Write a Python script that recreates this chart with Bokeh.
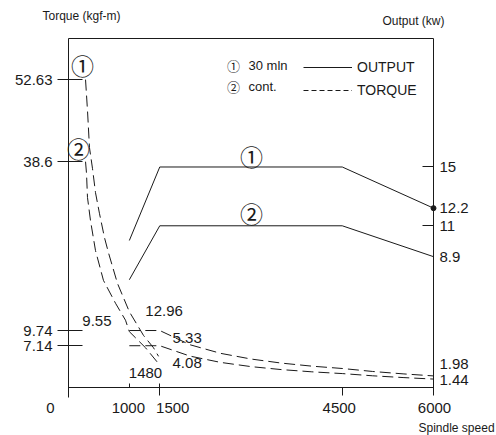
from bokeh.plotting import figure
from bokeh.models import (Range1d, LinearAxis, FixedTicker, ColumnDataSource,
                          LabelSet, Label, Legend, LegendItem)
from bokeh.core.properties import value
from bokeh.embed import file_html
from bokeh.resources import INLINE

# ---------------- data ----------------
speed_label_ticks = [0, 1000, 1500, 4500, 6000]
speed_tick_labels = ["0", "1000", "1500", "4500", "6000"]
speed_ticks_in = [1000, 1500]
speed_ticks_out = [1500, 4500]
torque_ticks = [52.63, 38.6, 9.74, 7.14]
torque_tick_labels = ["52.63", "38.6", "9.74", "7.14"]
output_ticks = [15, 11]

# output (kW) lines
out1_speed = [1000, 1500, 4500, 6000]
out1_kw = [10.0, 15.0, 15.0, 12.2]
out2_speed = [1000, 1500, 4500, 6000]
out2_kw = [7.33, 11.0, 11.0, 8.9]

# torque (kgf-m), low-speed range
tq1_low_speed = [280, 312, 345, 395, 444, 510, 592, 658, 805, 1000, 1233, 1397, 1480]
tq1_low = [52.63, 47.4, 41.0, 37.4, 33.3, 29.7, 25.6, 23.0, 17.8, 12.96, 8.9, 6.8, 5.33]
tq2_low_speed = [280, 296, 312, 362, 444, 575, 773, 937, 1000, 1266, 1480]
tq2_low = [38.6, 36.6, 32.5, 28.5, 23.4, 18.3, 14.4, 11.5, 9.55, 6.8, 4.08]

# torque (kgf-m), high-speed range
tq_high_speed = [1000, 1500, 2000, 2500, 3000, 3500, 4000, 4500, 5000, 5500, 6000]
tq1_high = [9.74, 9.74, 7.3, 5.84, 4.87, 4.17, 3.65, 3.25, 2.74, 2.33, 1.98]
tq2_high = [7.14, 7.14, 5.36, 4.29, 3.57, 3.06, 2.68, 2.38, 2.0, 1.70, 1.44]

# value notes
note_speed = [1000, 1000, 1480, 1480]
note_torque = [12.96, 9.55, 5.33, 4.08]
note_text = ["12.96", "9.55", "5.33", "4.08"]
mark_speed = [1480]
mark_text = ["1480"]
end_out_kw = [12.2, 8.9]
end_out_text = ["12.2", "8.9"]
end_tq = [1.98, 1.44]
end_tq_text = ["1.98", "1.44"]

SPEED_MAX = 6000
TQ_MAX = 59.66
OUT_MAX = 23.74

# ---------------- layout / style ----------------
W, H = 496, 435
BOX_L, BOX_R, BOX_T, BOX_B = 68, 433, 38, 387
FONT = "Liberation Sans"
CJK = "Noto Sans CJK JP"
INK = "#1a1a1a"

sx = (BOX_R - BOX_L) / SPEED_MAX
st = (BOX_B - BOX_T) / TQ_MAX
so = (BOX_B - BOX_T) / OUT_MAX

p = figure(width=W, height=H, output_backend="svg", toolbar_location=None,
           title=None, x_axis_location=None, y_axis_location=None,
           x_range=Range1d(-BOX_L / sx, SPEED_MAX + (W - BOX_R) / sx),
           y_range=Range1d(-(H - BOX_B) / st, TQ_MAX + BOX_T / st),
           min_border=0)
p.extra_y_ranges = {"out": Range1d(-(H - BOX_B) / so, OUT_MAX + BOX_T / so)}
p.xgrid.visible = False
p.ygrid.visible = False
p.outline_line_color = None
p.background_fill_color = "white"
p.border_fill_color = "white"

lab = dict(major_label_text_font=FONT, major_label_text_font_size="15px",
           major_label_text_color=INK, axis_line_color=INK,
           major_tick_line_color=INK, minor_tick_line_color=None)

# left axis (torque)
ya = LinearAxis(fixed_location=0, bounds=(-10 / st, TQ_MAX),
                ticker=FixedTicker(ticks=torque_ticks),
                major_label_overrides={t: s for t, s in zip(torque_ticks, torque_tick_labels)},
                major_tick_in=14, major_tick_out=11, major_label_standoff=5, **lab)
p.add_layout(ya, "left")

# bottom axis (speed)
xa = LinearAxis(fixed_location=0, bounds=(0, SPEED_MAX),
                ticker=FixedTicker(ticks=speed_ticks_in),
                major_tick_in=4, major_tick_out=0, **lab)
xa.major_label_text_color = None
p.add_layout(xa, "below")
xa2 = LinearAxis(fixed_location=0, bounds=(0, SPEED_MAX),
                 ticker=FixedTicker(ticks=speed_ticks_out),
                 major_tick_in=0, major_tick_out=8, **lab)
xa2.axis_line_color = None
xa2.major_label_text_color = None
p.add_layout(xa2, "below")

# top border
ta = LinearAxis(fixed_location=TQ_MAX, bounds=(0, SPEED_MAX),
                ticker=FixedTicker(ticks=[]), major_tick_in=0, major_tick_out=0,
                **lab)
ta.major_label_text_color = None
p.add_layout(ta, "above")

# right axis (output)
ra = LinearAxis(y_range_name="out", fixed_location=SPEED_MAX,
                bounds=(-8 / so, OUT_MAX),
                ticker=FixedTicker(ticks=output_ticks),
                major_tick_in=11, major_tick_out=0, major_label_standoff=6, **lab)
p.add_layout(ra, "right")

# output lines
r_out = p.line(out1_speed, out1_kw, y_range_name="out", line_color=INK, line_width=1)
p.line(out2_speed, out2_kw, y_range_name="out", line_color=INK, line_width=1)
p.scatter([out1_speed[-1]], [out1_kw[-1]], y_range_name="out", size=5,
          color=INK)

# torque curves
DASH = "11 5"
for xs, ys in [(tq1_low_speed, tq1_low), (tq2_low_speed, tq2_low),
               (tq_high_speed, tq1_high), (tq_high_speed, tq2_high)]:
    p.line(xs, ys, line_color=INK, line_width=1, line_dash=DASH)

# legend (torque sample uses a finer dash, drawing nothing in the plot)
nan = float("nan")
r_tq = p.line([nan], [nan], line_color=INK, line_width=1, line_dash="5 3")
leg = Legend(items=[LegendItem(label="OUTPUT", renderers=[r_out]),
                    LegendItem(label="TORQUE", renderers=[r_tq])],
             location=(303, 335), glyph_width=49, glyph_height=20,
             label_height=20, label_standoff=5, spacing=3, padding=0, margin=0,
             border_line_color=None, background_fill_alpha=0,
             label_text_font=FONT, label_text_font_size="14px",
             label_text_color=INK)
p.add_layout(leg, "center")

TXT = dict(text_font=value(FONT), text_font_size=value("15px"),
           text_color=INK, text_baseline="middle")

# x tick labels
xl_src = ColumnDataSource(dict(x=speed_label_ticks, y=[0] * len(speed_label_ticks),
                               t=speed_tick_labels, dx=[-18, -1, 13, -3, 1]))
p.add_layout(LabelSet(x="x", y="y", text="t", source=xl_src, x_offset="dx",
                      y_offset=-20, text_align="center", **TXT))

# notes on torque curves
n_src = ColumnDataSource(dict(x=note_speed, y=note_torque, t=note_text,
                              dx=[16, -47, 14, 14], dy=[1, 11, 18, 1]))
p.add_layout(LabelSet(x="x", y="y", text="t", source=n_src, x_offset="dx",
                      y_offset="dy", text_align="left", **TXT))
m_src = ColumnDataSource(dict(x=mark_speed, y=[0], t=mark_text))
p.add_layout(LabelSet(x="x", y="y", text="t", source=m_src, x_offset=-13,
                      y_offset=15, text_align="center", **TXT))

# right-end labels
eo_src = ColumnDataSource(dict(x=[SPEED_MAX] * 2, y=end_out_kw, t=end_out_text))
p.add_layout(LabelSet(x="x", y="y", text="t", source=eo_src, y_range_name="out",
                      x_offset=6, text_align="left", **TXT))
et_src = ColumnDataSource(dict(x=[SPEED_MAX] * 2, y=end_tq, t=end_tq_text,
                               dy=[12, -1]))
p.add_layout(LabelSet(x="x", y="y", text="t", source=et_src, x_offset=6,
                      y_offset="dy", text_align="left", **TXT))

# free texts (screen px from top-left of canvas)
def txt(s, x, y, size, align="left", font=FONT):
    p.add_layout(Label(x=x, y=H - y, x_units="screen", y_units="screen", text=s,
                       text_font=font, text_font_size=size, text_color=INK,
                       text_align=align, text_baseline="middle"))

txt("Torque (kgf-m)", 42, 15, "12px")
txt("Output (kw)", 382, 20, "12px")
txt("Spindle speed", 418, 427, "12px")
txt("\u2460", 233, 65, "13px", "center", CJK)
txt("30 mln", 248, 65, "13px")
txt("\u2461", 233, 86, "13px", "center", CJK)
txt("cont.", 248, 86, "13px")
txt("\u2460", 82, 64, "23px", "center", CJK)
txt("\u2461", 78, 147, "23px", "center", CJK)
txt("\u2460", 251, 155, "23px", "center", CJK)
txt("\u2461", 251, 212, "23px", "center", CJK)

open("out.html", "w").write(file_html(p, INLINE))
